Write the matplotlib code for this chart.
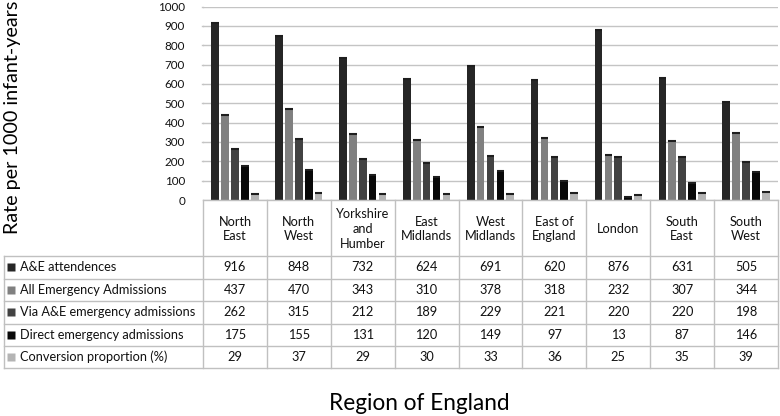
import numpy as np
import matplotlib.pyplot as plt

plt.rcParams['font.family'] = ['Lato', 'DejaVu Sans']

regions = ['North\nEast', 'North\nWest', 'Yorkshire\nand\nHumber', 'East\nMidlands',
           'West\nMidlands', 'East of\nEngland', 'London', 'South\nEast', 'South\nWest']
series = ['A&E attendences', 'All Emergency Admissions', 'Via A&E emergency admissions',
          'Direct emergency admissions', 'Conversion proportion (%)']
ae_attend = [916, 848, 732, 624, 691, 620, 876, 631, 505]
all_emerg = [437, 470, 343, 310, 378, 318, 232, 307, 344]
via_ae = [262, 315, 212, 189, 229, 221, 220, 220, 198]
direct = [175, 155, 131, 120, 149, 97, 13, 87, 146]
conversion = [29, 37, 29, 30, 33, 36, 25, 35, 39]
colors = ['#262626', '#808080', '#424242', '#080808', '#b4b4b4']

values = [ae_attend, all_emerg, via_ae, direct, conversion]

W, H = 780, 416
fig = plt.figure(figsize=(W / 100, H / 100), dpi=100)
renderer = fig.canvas.get_renderer()


def fit_size(s, target_px, rotation=0):
    # font size that gives the text the wanted pixel extent
    t = fig.text(0, 0, s, fontsize=10, rotation=rotation)
    bb = t.get_window_extent(renderer)
    t.remove()
    ext = bb.height if rotation else bb.width
    return 10 * target_px / ext


fs_table = fit_size('A&E attendences', 97)
fs_tick = fit_size('1000', 27)
fs_ylab = fit_size('Rate per 1000 infant-years', 233, rotation=90)
fs_xlab = fit_size('Region of England', 180)

# bar area
x0, x1, ytop, ybot = 203, 778, 6.5, 200
ax = fig.add_axes([x0 / W, 1 - ybot / H, (x1 - x0) / W, (ybot - ytop) / H])
n = len(regions)
xc = np.arange(n) + 0.5
bw = 0.12
step = 0.155
for k, (vals, c) in enumerate(zip(values, colors)):
    xs = xc + (k - 2) * step
    ax.bar(xs, vals, width=bw, color=c, edgecolor='none', zorder=3)
    ax.hlines(vals, xs - bw / 2, xs + bw / 2, colors='#1e1e1e', lw=1.5, zorder=4)
ax.set_xlim(0, n)
ax.set_ylim(0, 1000)
ax.set_yticks(np.arange(0, 1001, 100))
ax.tick_params(axis='y', length=0, labelsize=fs_tick, pad=13, labelcolor='#111111')
ax.set_xticks([])
for s in ax.spines.values():
    s.set_visible(False)
ax.yaxis.grid(True, color='#c4c4c4', lw=1, zorder=0)
ax.set_axisbelow(True)
for y in range(100, 1001, 100):
    ax.plot([-0.015, 0], [y, y], color='#c4c4c4', lw=1, clip_on=False)

# data table drawn in pixel coordinates
tab = fig.add_axes([0, 0, 1, 1])
tab.set_xlim(0, W)
tab.set_ylim(H, 0)
tab.axis('off')
lc = '#c0c0c0'
col_edges = np.linspace(x0, x1, n + 1)
row_edges = [200, 256, 278.5, 301, 323.5, 346, 368]
lab_left = 4
tab.plot([x0, x1], [row_edges[0]] * 2, color=lc, lw=1)
for yy in row_edges[1:]:
    tab.plot([lab_left, x1], [yy, yy], color=lc, lw=1)
for xx in col_edges:
    tab.plot([xx, xx], [row_edges[0], row_edges[-1]], color=lc, lw=1)
tab.plot([lab_left, lab_left], [row_edges[1], row_edges[-1]], color=lc, lw=1)

for j, r in enumerate(regions):
    cx = (col_edges[j] + col_edges[j + 1]) / 2
    tab.text(cx, (row_edges[0] + row_edges[1]) / 2 + 1, r, ha='center', va='center',
             fontsize=fs_table, color='#111111', linespacing=1.25)
for i, (name, vals, c) in enumerate(zip(series, values, colors)):
    cy = (row_edges[i + 1] + row_edges[i + 2]) / 2
    tab.plot(11, cy, marker='s', ms=6, color=c, mec='none')
    tab.text(20, cy, name, ha='left', va='center', fontsize=fs_table, color='#111111')
    for j, v in enumerate(vals):
        cx = (col_edges[j] + col_edges[j + 1]) / 2
        tab.text(cx, cy, str(v), ha='center', va='center', fontsize=fs_table, color='#111111')

fig.text(13 / W, 1 - 117 / H, 'Rate per 1000 infant-years', rotation=90,
         ha='center', va='center', fontsize=fs_ylab, color='#000000')
fig.text(419 / W, 1 - 404 / H, 'Region of England', ha='center', va='center',
         fontsize=fs_xlab, color='#000000')

fig.savefig('out.png', dpi=100, facecolor='white')
